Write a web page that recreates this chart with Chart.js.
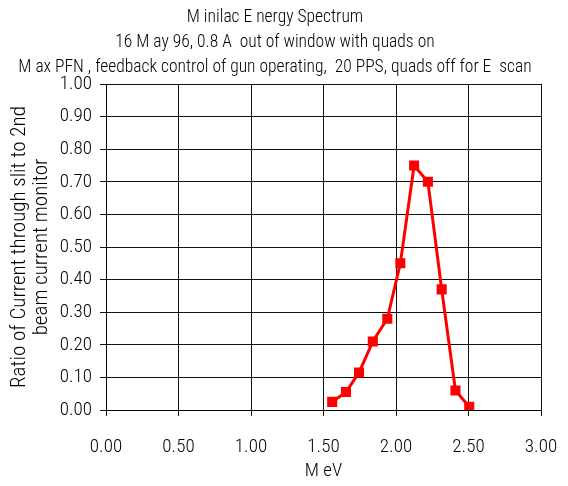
<!DOCTYPE html>
<html>
<head>
<meta charset="utf-8">
<script src="https://cdn.jsdelivr.net/npm/chart.js@4"></script>
<style>
  html, body { margin: 0; padding: 0; background: #fff; }
  #wrap { width: 568px; height: 486px; }
</style>
</head>
<body>
<div id="wrap"><canvas id="spectrum"></canvas></div>
<script>
// energy (MeV) and ratio
const energy = [1.56, 1.655, 1.745, 1.84, 1.94, 2.03, 2.125, 2.22, 2.315, 2.41, 2.505];
const ratio = [0.025, 0.055, 0.115, 0.21, 0.28, 0.45, 0.75, 0.70, 0.37, 0.06, 0.01];

const titleLines = [
  'M inilac E nergy Spectrum',
  '16 M ay 96, 0.8 A  out of window with quads on',
  'M ax PFN , feedback control of gun operating,  20 PPS, quads off for E  scan'
];
const yTitle = ['Ratio of Current through slit to 2nd', 'beam current monitor'];
const xTitle = 'M eV';

Chart.defaults.font.family = '"Roboto Condensed", "DejaVu Sans Condensed", sans-serif';
Chart.defaults.font.weight = 300;
Chart.defaults.color = '#000';

const points = energy.map((e, i) => ({ x: e, y: ratio[i] }));

new Chart(document.getElementById('spectrum'), {
  type: 'line',
  data: {
    datasets: [{
      data: points,
      borderColor: '#ff0000',
      backgroundColor: '#ff0000',
      borderWidth: 3,
      pointStyle: 'rect',
      pointRadius: 5,
      pointHoverRadius: 5,
      tension: 0
    }]
  },
  options: {
    responsive: true,
    maintainAspectRatio: false,
    animation: false,
    layout: { padding: { left: 9, right: 27, top: 5, bottom: 2 } },
    plugins: {
      legend: { display: false },
      tooltip: { enabled: false },
      title: {
        display: true,
        text: titleLines,
        font: { size: 17.5, weight: 300, lineHeight: 1.42 },
        padding: { top: 0, bottom: 4.5 }
      }
    },
    scales: {
      x: {
        type: 'linear',
        min: 0,
        max: 3,
        afterFit: s => { s.height = 74; s.paddingLeft = 0; s.paddingRight = 0; },
        ticks: {
          stepSize: 0.5,
          font: { size: 19 },
          padding: 20,
          callback: v => v.toFixed(2)
        },
        grid: { color: '#111', lineWidth: 1, tickLength: 6 },
        border: { color: '#000', width: 1 },
        title: { display: true, text: xTitle, font: { size: 19 }, padding: { top: 0, bottom: 1 } }
      },
      y: {
        min: 0,
        max: 1,
        afterFit: s => { s.width = 97; s.paddingTop = 0; s.paddingBottom = 0; },
        ticks: {
          stepSize: 0.1,
          font: { size: 19 },
          padding: 8,
          callback: v => v.toFixed(2)
        },
        grid: { color: '#111', lineWidth: 1, tickLength: 6 },
        border: { color: '#000', width: 1 },
        title: { display: true, text: yTitle, font: { size: 21, lineHeight: 1.05 }, padding: { top: 0, bottom: 0 } }
      }
    }
  }
});
</script>
</body>
</html>
